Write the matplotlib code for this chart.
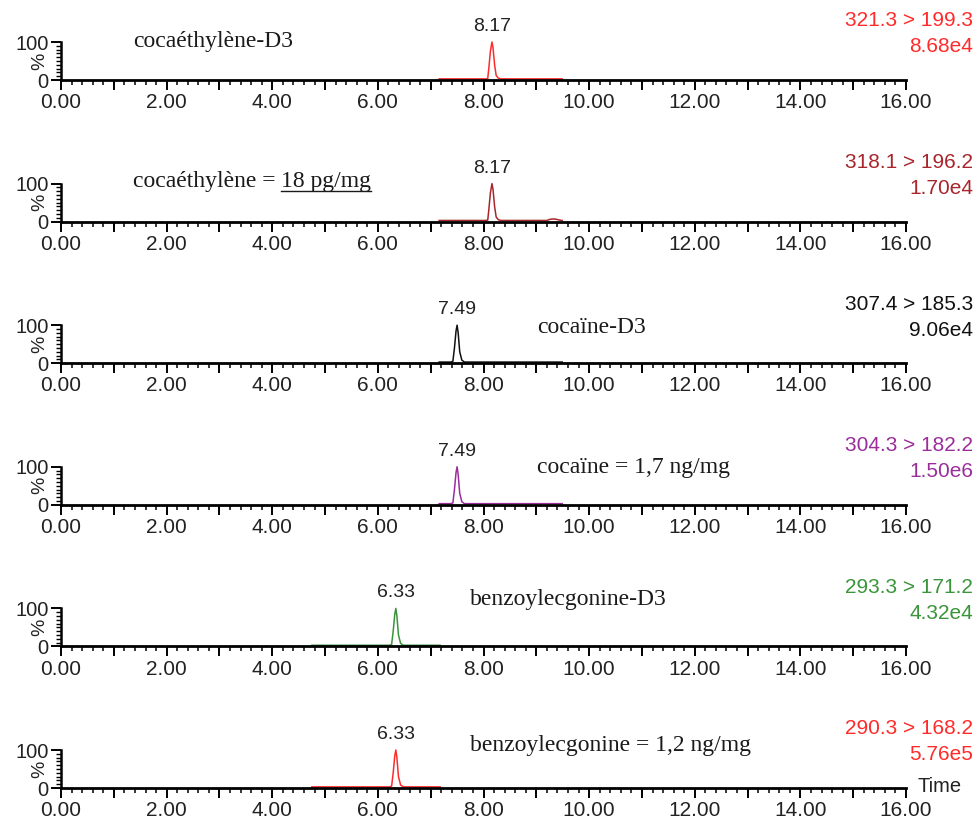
import numpy as np
import matplotlib
matplotlib.use("Agg")
import matplotlib.pyplot as plt
from matplotlib.ticker import MultipleLocator
from matplotlib.lines import Line2D

# ---------------- data ----------------
compound_labels = ["cocaéthylène-D3", "cocaéthylène = ", "cocaïne-D3",
                   "cocaïne = 1,7 ng/mg", "benzoylecgonine-D3",
                   "benzoylecgonine = 1,2 ng/mg"]
underlined_parts = ["", "18 pg/mg", "", "", "", ""]
transitions = ["321.3 > 199.3", "318.1 > 196.2", "307.4 > 185.3",
               "304.3 > 182.2", "293.3 > 171.2", "290.3 > 168.2"]
max_intensity = ["8.68e4", "1.70e4", "9.06e4", "1.50e6", "4.32e4", "5.76e5"]
peak_rt = [8.17, 8.17, 7.50, 7.50, 6.34, 6.34]
peak_labels = ["8.17", "8.17", "7.49", "7.49", "6.33", "6.33"]
x_tick_values = [0, 2, 4, 6, 8, 10, 12, 14, 16]
x_tick_labels = ["0.00", "2.00", "4.00", "6.00", "8.00", "10.00",
                 "12.00", "14.00", "16.00"]
y_tick_values = [0, 100]
y_tick_labels = ["0", "100"]

time_1 = [7.16, 8.04, 8.08, 8.10, 8.13, 8.16, 8.18, 8.21, 8.24, 8.28, 8.33, 9.49]
resp_1 = [3, 3, 4, 30, 75, 100, 85, 40, 12, 5, 3, 3]
time_2 = [7.16, 8.04, 8.08, 8.10, 8.13, 8.16, 8.18, 8.21, 8.24, 8.28, 8.33,
          9.20, 9.26, 9.32, 9.38, 9.44, 9.49]
resp_2 = [3, 3, 4, 30, 75, 100, 85, 40, 12, 5, 3, 3, 6, 7, 6, 4, 3]
time_3 = [7.16, 7.38, 7.42, 7.45, 7.48, 7.50, 7.52, 7.55, 7.59, 7.64, 9.49]
resp_3 = [3, 3, 5, 40, 85, 100, 80, 30, 8, 3, 3]
time_4 = [7.16, 7.38, 7.42, 7.45, 7.48, 7.50, 7.52, 7.55, 7.59, 7.64, 9.49]
resp_4 = [3, 3, 5, 40, 85, 100, 80, 30, 8, 3, 3]
time_5 = [4.75, 6.22, 6.26, 6.29, 6.32, 6.34, 6.36, 6.39, 6.43, 6.48, 7.18]
resp_5 = [3, 3, 5, 40, 85, 100, 80, 30, 8, 3, 3]
time_6 = [4.75, 6.22, 6.26, 6.29, 6.32, 6.34, 6.36, 6.39, 6.43, 6.48, 7.18]
resp_6 = [3, 3, 5, 40, 85, 100, 80, 30, 8, 3, 3]

times = [time_1, time_2, time_3, time_4, time_5, time_6]
resps = [resp_1, resp_2, resp_3, resp_4, resp_5, resp_6]

# ---------------- styles ----------------
trace_colors = ["#FF2B2B", "#A8262B", "#111111", "#9B2D9B", "#3A943A", "#FF2B2B"]
label_x_px = [133, 133, 537, 537, 470, 470]
label_above_px = [39, 40, 36, 37, 47, 43]

W, H = 979, 823
DPI = 100
fig = plt.figure(figsize=(W / DPI, H / DPI), dpi=DPI)
fig.patch.set_facecolor("white")

sans = ["Liberation Sans", "DejaVu Sans"]
serif = ["Liberation Serif", "DejaVu Serif"]

left_px, right_px = 61, 906
base0, step = 80, 141.6
axh_px = 38


def fx(px):
    return px / W


def fy(py):
    return 1 - py / H


for k in range(6):
    base = base0 + step * k
    ax = fig.add_axes([fx(left_px), fy(base), (right_px - left_px) / W, axh_px / H])
    ax.set_facecolor("none")
    ax.plot(times[k], resps[k], color=trace_colors[k], lw=1.1, clip_on=False)
    ax.set_xlim(0, 16)
    ax.set_ylim(0, 100)
    for s in ["top", "right"]:
        ax.spines[s].set_visible(False)
    ax.spines["left"].set_linewidth(1.8)
    ax.spines["bottom"].set_linewidth(2.0)
    ax.set_xticks(x_tick_values)
    ax.set_xticklabels(x_tick_labels, family=sans, fontsize=15, color="#222222")
    ax.xaxis.set_minor_locator(MultipleLocator(0.2))
    ax.set_yticks(y_tick_values)
    ax.set_yticklabels(y_tick_labels, family=sans, fontsize=14.5, color="#222222")
    ax.yaxis.set_minor_locator(MultipleLocator(10))
    ax.tick_params(axis="x", which="major", direction="out", length=7.5, width=1.4, pad=2)
    ax.tick_params(axis="x", which="minor", direction="out", length=3.8, width=1.1)
    ax.tick_params(axis="y", which="major", direction="out", length=7, width=1.4, pad=2)
    ax.tick_params(axis="y", which="minor", direction="out", length=3.5, width=1.0)

    # medium ticks at odd minutes (same style as majors, no label)
    sec = ax.secondary_xaxis("bottom")
    sec.spines["bottom"].set_visible(False)
    sec.set_xticks([1, 3, 5, 7, 9, 11, 13, 15])
    sec.set_xticklabels([])
    sec.tick_params(axis="x", direction="out", length=7.5, width=1.4)

    # "%" label
    fig.text(fx(40), fy(base - axh_px / 2), "%", rotation=90, ha="center", va="center",
             family=sans, fontsize=14, color="#222222")

    # peak label
    ax.annotate(peak_labels[k], xy=(peak_rt[k], 100), xytext=(0, 5),
                textcoords="offset points", ha="center", va="bottom",
                family=sans, fontsize=14, color="#222222", annotation_clip=False)

    # transition and intensity
    fig.text(fx(973), fy(base - 59), transitions[k], ha="right", va="center",
             family=sans, fontsize=15, color=trace_colors[k])
    fig.text(fx(973), fy(base - 33), max_intensity[k], ha="right", va="center",
             family=sans, fontsize=15, color=trace_colors[k])

    # compound label
    t = fig.text(fx(label_x_px[k]), fy(base - label_above_px[k]), compound_labels[k],
                 ha="left", va="center", family=serif, fontsize=17, color="#1a1a1a")
    if underlined_parts[k]:
        fig.canvas.draw()
        r = fig.canvas.get_renderer()
        bb = t.get_window_extent(renderer=r)
        t2 = fig.text(bb.x1 / W, fy(base - label_above_px[k]), underlined_parts[k],
                      ha="left", va="center", family=serif, fontsize=17, color="#1a1a1a")
        bb2 = t2.get_window_extent(renderer=r)
        yline = (bb2.y0 + 1) / H
        fig.add_artist(Line2D([bb2.x0 / W, bb2.x1 / W], [yline, yline],
                              color="#1a1a1a", lw=1.0))

    if k == 5:
        fig.text(fx(918), fy(base - 2), "Time", ha="left", va="center",
                 family=sans, fontsize=14.5, color="#222222")

fig.savefig("out.png", dpi=DPI, facecolor="white")
